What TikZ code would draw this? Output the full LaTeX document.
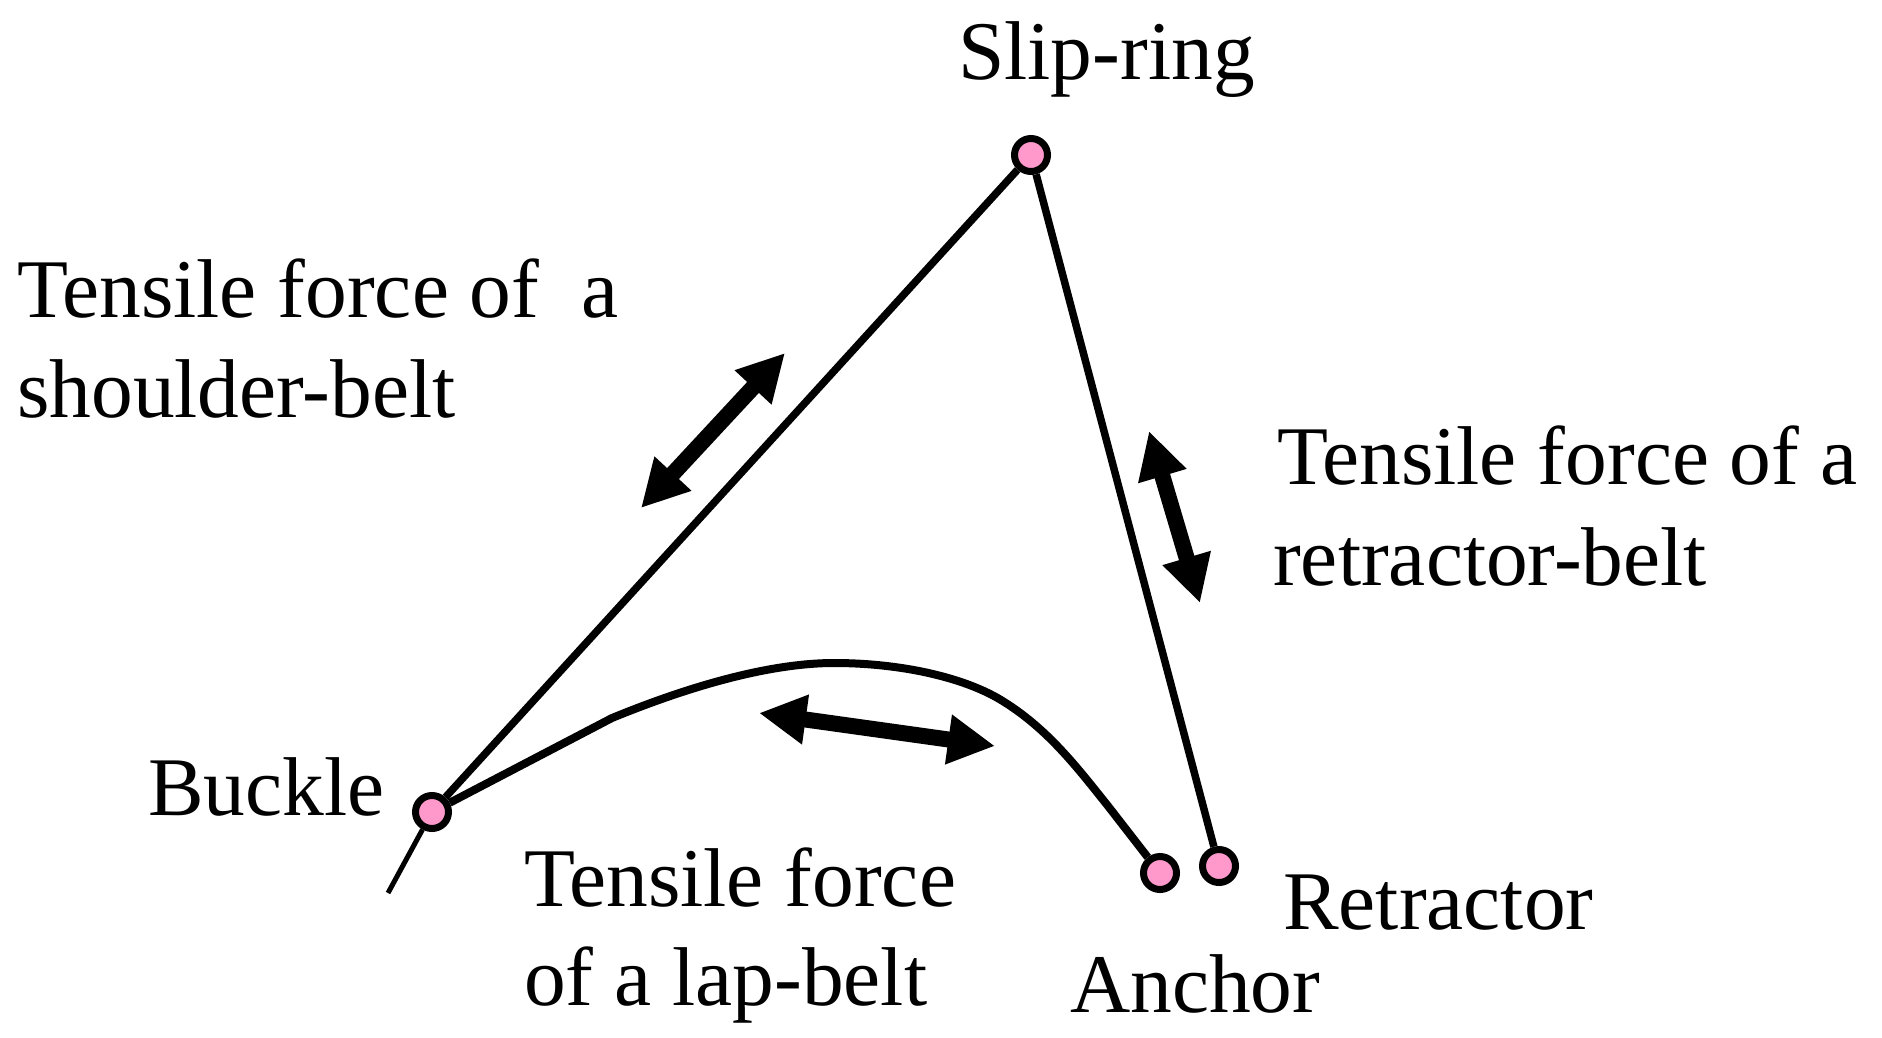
\documentclass[tikz,border=0pt]{standalone}
\usepackage{fontspec}
\setmainfont{Liberation Serif}
\usetikzlibrary{arrows.meta}
\definecolor{ringpink}{HTML}{FF99CC}
\tikzset{
  ring/.style={circle,draw=black,fill=ringpink,line width=7pt,minimum size=33pt,inner sep=0pt},
  belt/.style={line width=7.5pt,draw=black},
  force/.style={line width=16pt,draw=black,{Triangle[length=47pt,width=47pt]}-{Triangle[length=47pt,width=47pt]}},
  lbl/.style={anchor=base west,inner sep=0pt,align=left,font=\fontsize{83.4pt}{100pt}\selectfont}
}
\begin{document}
\begin{tikzpicture}[x=1pt,y=-1pt]
\useasboundingbox (0,0) rectangle (1882,1037);
\node[ring] (slip) at (1031,155) {};
\node[ring] (buckle) at (432,812) {};
\node[ring] (anch) at (1160,873) {};
\node[ring] (retr) at (1219,866) {};
\coordinate (tail) at (388,893);
\coordinate (lapa) at (612,718);
\coordinate (lapb) at (834,663);
\coordinate (lapc) at (1001,700);
\coordinate (lapd) at (1108,806);
\coordinate (sa) at (785,353);
\coordinate (sb) at (641,508);
\coordinate (ra) at (1149,431);
\coordinate (rb) at (1200,603);
\coordinate (la) at (759,713);
\coordinate (lb) at (995,746);
\draw[belt] (slip) -- (buckle);
\draw[belt] (slip) -- (retr);
\draw[line width=5pt] (buckle) -- (tail);
\draw[belt,line width=8pt] (buckle) -- (lapa) .. controls (690,686) and (770,663) .. (lapb) .. controls (900,663) and (963,677) .. (lapc) .. controls (1047,728) and (1076,766) .. (lapd) -- (anch);
\draw[force] (sb) -- (sa);
\draw[force] (ra) -- (rb);
\draw[force] (la) -- (lb);
\node[lbl] (tslip) at (958,79) {Slip-ring};
\node[lbl] (tsh1) at (17,317) {Tensile force of\ \ a};
\node[lbl] (tsh2) at (17,417) {shoulder-belt};
\node[lbl] (tre1) at (1277,484) {Tensile force of a};
\node[lbl] (tre2) at (1273,585) {retractor-belt};
\node[lbl] (tbuck) at (148,815) {Buckle};
\node[lbl] (tla1) at (524,906) {Tensile force};
\node[lbl] (tla2) at (524,1005) {of a lap-belt};
\node[lbl] (tret) at (1283,929) {Retractor};
\node[lbl] (tanc) at (1070,1012) {Anchor};
\end{tikzpicture}
\end{document}
